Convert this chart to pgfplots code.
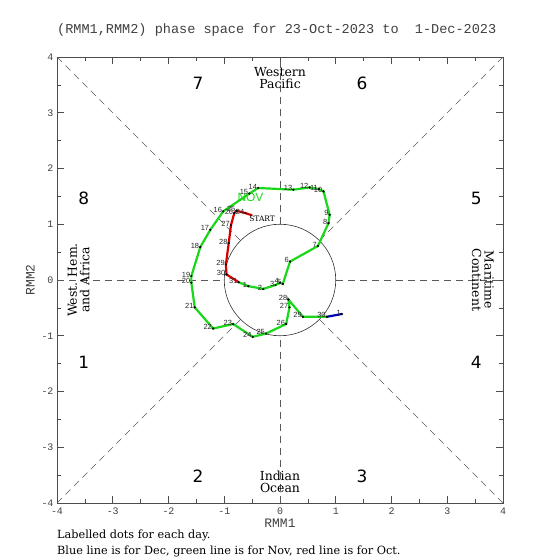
\documentclass[border=0pt]{standalone}
\usepackage{pgfplots}
\pgfplotsset{compat=1.18}
\usepackage{fontspec}
\setmainfont{DejaVu Serif}
\newfontfamily\monof{Liberation Mono}
\newfontfamily\sansf{Liberation Sans}
\newfontfamily\numf{DejaVu Sans}
\definecolor{mjogreen}{RGB}{25,215,25}
\definecolor{mjored}{RGB}{215,0,0}
\definecolor{mjoblue}{RGB}{0,0,185}
\pgfplotstableread{
x y lab
-0.62 1.20 24
-0.78 1.24 25
-0.82 1.20 26
-0.88 0.98 27
-0.92 0.66 28
-0.97 0.28 29
-0.96 0.10 30
-0.74 -0.04 31
}\octlab
\pgfplotstableread{
x y lab
-0.57 -0.11 1
-0.30 -0.16 2
-0.08 -0.09 3
0.00 -0.05 4
0.05 -0.07 5
0.18 0.33 6
0.68 0.61 7
0.87 1.02 8
0.89 1.17 9
0.78 1.59 10
0.70 1.63 11
0.53 1.66 12
0.24 1.62 13
-0.39 1.65 14
-0.55 1.55 15
-1.02 1.23 16
-1.25 0.90 17
-1.43 0.59 18
-1.59 0.07 19
-1.59 -0.05 20
-1.53 -0.49 21
-1.20 -0.87 22
-0.84 -0.79 23
-0.49 -1.02 24
-0.25 -0.96 25
0.11 -0.79 26
0.17 -0.49 27
0.15 -0.35 28
0.41 -0.66 29
0.84 -0.66 30
}\novlab
\pgfplotstableread{
x y lab
1.11 -0.61 1
}\declab
\begin{document}
\begin{tikzpicture}
\begin{axis}[
  width=446bp, height=446bp, scale only axis,
  xmin=-4, xmax=4, ymin=-4, ymax=4,
  xtick={-4,-3,-2,-1,0,1,2,3,4}, ytick={-4,-3,-2,-1,0,1,2,3,4},
  xticklabels={-4,-3,-2,-1,0,1,2,3,4},
  yticklabels={-4,-3,-2,-1,0,1,2,3,4},
  minor xtick={-3.5,-2.5,-1.5,-0.5,0.5,1.5,2.5,3.5},
  minor ytick={-3.5,-2.5,-1.5,-0.5,0.5,1.5,2.5,3.5},
  tick align=inside, major tick length=7bp, minor tick length=4bp,
  xtick pos=both, ytick pos=both,
  every tick/.style={black!70, line width=0.6bp},
  axis line style={black!70, line width=0.8bp},
  ticklabel style={font=\monof\fontsize{10}{10}\selectfont, text=black!75},
  xticklabel style={yshift=-1bp},
  clip=false,
]
% guide lines
\begin{scope}[black!65, line width=0.6bp, dash pattern=on 7bp off 5bp]
\draw (axis cs:-4,0) -- (axis cs:-1,0);
\draw (axis cs:1,0) -- (axis cs:4,0);
\draw (axis cs:0,-4) -- (axis cs:0,-1);
\draw (axis cs:0,1) -- (axis cs:0,4);
\draw (axis cs:-4,-4) -- (axis cs:-0.7071,-0.7071);
\draw (axis cs:4,4) -- (axis cs:0.7071,0.7071);
\draw (axis cs:-4,4) -- (axis cs:-0.7071,0.7071);
\draw (axis cs:4,-4) -- (axis cs:0.7071,-0.7071);
\end{scope}
\draw[black!80, line width=0.6bp] (axis cs:0,0) circle [radius=1];
% phase numbers
\begin{scope}[font=\numf\fontsize{17}{17}\selectfont]
\node at (axis cs:-1.47,3.52) {7};
\node at (axis cs:1.47,3.52) {6};
\node at (axis cs:-3.52,1.47) {8};
\node at (axis cs:3.52,1.47) {5};
\node at (axis cs:-3.52,-1.47) {1};
\node at (axis cs:3.52,-1.47) {4};
\node at (axis cs:-1.47,-3.52) {2};
\node at (axis cs:1.47,-3.52) {3};
\end{scope}
\begin{scope}[font=\fontsize{12.5}{12.5}\selectfont, align=center, inner sep=1bp]
\node at (axis cs:0,3.62) {Western\\Pacific};
\node at (axis cs:0,-3.62) {Indian\\Ocean};
\node[rotate=90] at (axis cs:-3.61,0) {West. Hem.\\and Africa};
\node[rotate=-90] at (axis cs:3.64,0) {Maritime\\Continent};
\end{scope}
% tracks
\addplot[mjored, line width=2.2bp, no marks] coordinates {
(-0.50,1.16) (-0.62,1.20) (-0.78,1.24) (-0.82,1.20) (-0.88,0.98) (-0.92,0.66) (-0.97,0.28) (-0.96,0.10) (-0.74,-0.04)};
\addplot[mjogreen, line width=2.2bp, no marks] table[x=x,y=y] {\novlab};
\addplot[mjogreen, line width=2.2bp, no marks] coordinates {(-0.74,-0.04) (-0.57,-0.11)};
\addplot[mjoblue, line width=2.2bp, no marks] coordinates {(0.84,-0.66) (1.11,-0.61)};
% labelled dots
\pgfplotsset{daylab/.style={only marks, mark=*, mark size=0.9bp, black,
  nodes near coords, point meta=explicit symbolic,
  nodes near coords style={font=\sansf\fontsize{7.5}{7.5}\selectfont, text=black!85, anchor=east, inner sep=1bp, yshift=1.5bp}}}
\addplot[daylab] table[x=x,y=y,meta=lab] {\octlab};
\addplot[daylab] table[x=x,y=y,meta=lab] {\novlab};
\addplot[daylab] table[x=x,y=y,meta=lab] {\declab};
\node[text=mjogreen, font=\sansf\fontsize{12}{12}\selectfont] at (axis cs:-0.53,1.49) {NOV};
\node[font=\fontsize{7.5}{7.5}\selectfont] at (axis cs:-0.32,1.09) {START};
% title and labels
\node[anchor=west, inner sep=0pt, font=\monof\fontsize{13.6}{14}\selectfont, text=black!75] at (axis cs:-4,4.48) {(RMM1,RMM2) phase space for 23-Oct-2023 to~~1-Dec-2023};
\node[font=\monof\fontsize{13}{13}\selectfont, text=black!75] at (axis cs:0,-4.37) {RMM1};
\node[font=\monof\fontsize{13}{13}\selectfont, text=black!75, rotate=90] at (axis cs:-4.48,0) {RMM2};
\node[anchor=base west, font=\fontsize{11.3}{11.3}\selectfont, inner sep=0pt] at (axis cs:-4.0,-4.63) {Labelled dots for each day.};
\node[anchor=base west, font=\fontsize{11.3}{11.3}\selectfont, inner sep=0pt] at (axis cs:-4.0,-4.92) {Blue line is for Dec, green line is for Nov, red line is for Oct.};
\coordinate (BL) at (axis cs:-5.0224,-5.0224);
\coordinate (TR) at (axis cs:5.0224,5.0224);
\end{axis}
\pgfresetboundingbox
\useasboundingbox (BL) rectangle (TR);
\end{tikzpicture}
\end{document}
